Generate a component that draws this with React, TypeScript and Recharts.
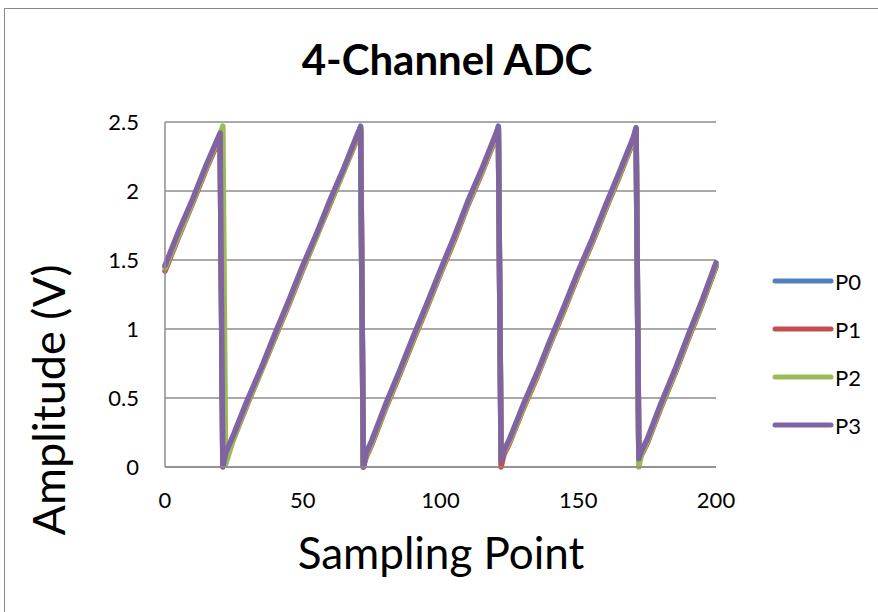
import React from "react";
import { LineChart, Line, XAxis, YAxis, CartesianGrid } from "recharts";

const samplePoints = [0,5,10,15,20,21,22,25,30,35,40,45,50,55,60,65,70,71,72,73,75,80,85,90,95,100,105,110,115,120,121,122,123,125,130,135,140,145,150,155,160,165,170,171,172,173,175,180,185,190,195,200];
const p0 = [1.45,1.69,1.92,2.17,2.40,0.01,0.08,0.22,0.47,0.71,0.95,1.19,1.44,1.68,1.92,2.16,2.40,2.47,0.01,0.08,0.17,0.43,0.67,0.92,1.16,1.41,1.65,1.91,2.14,2.39,2.47,0.04,0.10,0.18,0.43,0.66,0.91,1.15,1.40,1.63,1.88,2.12,2.37,2.45,0.05,0.10,0.18,0.44,0.68,0.94,1.19,1.46];
const p1 = [1.42,1.67,1.91,2.16,2.39,0.02,0.07,0.21,0.46,0.70,0.94,1.18,1.43,1.67,1.91,2.15,2.39,2.44,0.00,0.07,0.16,0.42,0.66,0.91,1.15,1.40,1.64,1.90,2.13,2.38,2.45,0.00,0.09,0.17,0.42,0.65,0.90,1.14,1.39,1.62,1.87,2.11,2.36,2.44,0.04,0.09,0.17,0.43,0.67,0.93,1.18,1.45];
const p2 = [1.44,1.68,1.92,2.17,2.41,2.47,0.02,0.21,0.47,0.70,0.95,1.19,1.44,1.67,1.92,2.15,2.40,2.45,0.01,0.08,0.17,0.43,0.67,0.92,1.16,1.41,1.65,1.91,2.14,2.39,2.45,0.08,0.11,0.18,0.43,0.66,0.91,1.15,1.40,1.63,1.88,2.12,2.37,2.45,0.00,0.10,0.18,0.44,0.68,0.94,1.19,1.46];
const p3 = [1.46,1.71,1.94,2.19,2.42,0.00,0.10,0.24,0.49,0.72,0.97,1.21,1.46,1.69,1.94,2.17,2.42,2.46,0.00,0.10,0.19,0.45,0.69,0.94,1.18,1.43,1.67,1.93,2.16,2.41,2.46,0.05,0.12,0.20,0.45,0.68,0.93,1.17,1.42,1.65,1.90,2.14,2.39,2.46,0.06,0.12,0.20,0.46,0.70,0.96,1.21,1.48];

const seriesNames = ["P0", "P1", "P2", "P3"];
const seriesValues = [p0, p1, p2, p3];
const seriesColors = ["#4F81BD", "#C0504D", "#9BBB59", "#8064A2"];
const xTicks = [0, 50, 100, 150, 200];
const yTicks = [0, 0.5, 1, 1.5, 2, 2.5];

const data = samplePoints.map((x, i) => {
  const row: any = { x };
  seriesNames.forEach((n, k) => { row[n] = seriesValues[k][i]; });
  return row;
});

const FONT = "Lato, 'Open Sans', sans-serif";

export default function App() {
  return (
    <div style={{ position: "absolute", left: 0, top: 0, width: 878, height: 612, overflow: "hidden", background: "#fff" }}>
      <div style={{ position: "absolute", left: 4, top: 8, width: 1000, height: 1000, border: "1.5px solid #8a8a8a" }} />
      <div style={{ position: "absolute", left: 0, top: 0 }}>
        <LineChart width={878} height={612} data={data} margin={{ top: 122, right: 162, bottom: 115, left: 105 }}>
          <CartesianGrid vertical={false} stroke="#8c8c8c" strokeWidth={1.5} />
          <XAxis
            dataKey="x"
            type="number"
            domain={[0, 200]}
            ticks={xTicks}
            tickLine={false}
            axisLine={{ stroke: "#8c8c8c", strokeWidth: 1.5 }}
            tick={{ fontSize: 22, fill: "#000", fontFamily: FONT }}
            tickMargin={19}
            height={30}
          />
          <YAxis
            type="number"
            domain={[0, 2.5]}
            ticks={yTicks}
            tickLine={false}
            axisLine={{ stroke: "#8c8c8c", strokeWidth: 1.5 }}
            tick={{ fontSize: 22, fill: "#000", fontFamily: FONT }}
            tickMargin={20}
            width={60}
          />
          {seriesNames.map((n, k) => (
            <Line
              key={n}
              dataKey={n}
              stroke={seriesColors[k]}
              strokeWidth={5.5}
              dot={false}
              strokeLinejoin="round"
              strokeLinecap="round"
              isAnimationActive={false}
            />
          ))}
        </LineChart>
      </div>
      <div style={{ position: "absolute", left: 772, top: 257, fontFamily: FONT }}>
        {seriesNames.map((n, k) => (
          <div key={n} style={{ display: "flex", alignItems: "center", height: 48 }}>
            <svg width={62} height={10}>
              <line x1={3} y1={5} x2={59} y2={5} stroke={seriesColors[k]} strokeWidth={5} strokeLinecap="round" />
            </svg>
            <span style={{ fontSize: 22, color: "#000", marginLeft: 1 }}>{n}</span>
          </div>
        ))}
      </div>
      <div style={{ position: "absolute", left: 0, width: 878, top: 34, lineHeight: "50px", textAlign: "center", fontFamily: FONT, fontWeight: 700, fontSize: 42, color: "#000", paddingLeft: 16, boxSizing: "border-box" }}>
        4-Channel ADC
      </div>
      <div style={{ position: "absolute", left: 141, width: 600, top: 525, lineHeight: "54px", textAlign: "center", fontFamily: FONT, fontSize: 44, color: "#000" }}>
        Sampling Point
      </div>
      <div style={{ position: "absolute", left: 48, top: 400, width: 0, height: 0 }}>
        <div style={{ position: "absolute", left: -200, top: -27, width: 400, textAlign: "center", fontFamily: FONT, fontSize: 45, color: "#000", transform: "rotate(-90deg)", lineHeight: "54px" }}>
          Amplitude (V)
        </div>
      </div>
    </div>
  );
}
